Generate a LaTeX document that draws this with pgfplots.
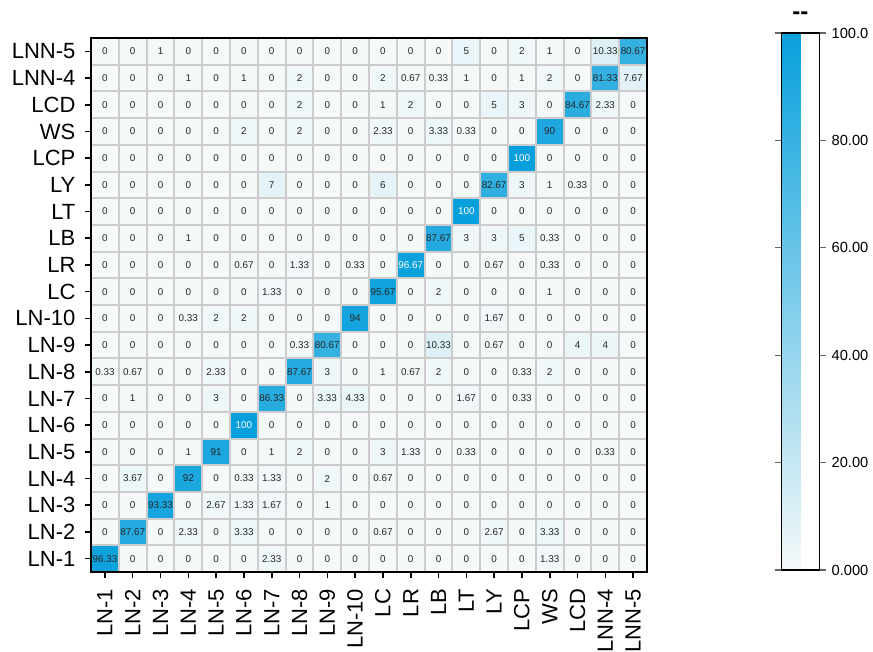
\documentclass[border=0pt]{standalone}
\usepackage{pgfplots}
\usepackage{pgfplotstable}
\pgfplotsset{compat=1.18}
\usepackage{fontspec}
\setmainfont{Liberation Sans}
\pgfplotstableread[row sep=\\]{
x y z\\
0 0 96.33\\ 1 0 0\\ 2 0 0\\ 3 0 0\\ 4 0 0\\ 5 0 0\\ 6 0 2.33\\ 7 0 0\\ 8 0 0\\ 9 0 0\\ 10 0 0\\ 11 0 0\\ 12 0 0\\ 13 0 0\\ 14 0 0\\ 15 0 0\\ 16 0 1.33\\ 17 0 0\\ 18 0 0\\ 19 0 0\\
0 1 0\\ 1 1 87.67\\ 2 1 0\\ 3 1 2.33\\ 4 1 0\\ 5 1 3.33\\ 6 1 0\\ 7 1 0\\ 8 1 0\\ 9 1 0\\ 10 1 0.67\\ 11 1 0\\ 12 1 0\\ 13 1 0\\ 14 1 2.67\\ 15 1 0\\ 16 1 3.33\\ 17 1 0\\ 18 1 0\\ 19 1 0\\
0 2 0\\ 1 2 0\\ 2 2 93.33\\ 3 2 0\\ 4 2 2.67\\ 5 2 1.33\\ 6 2 1.67\\ 7 2 0\\ 8 2 1\\ 9 2 0\\ 10 2 0\\ 11 2 0\\ 12 2 0\\ 13 2 0\\ 14 2 0\\ 15 2 0\\ 16 2 0\\ 17 2 0\\ 18 2 0\\ 19 2 0\\
0 3 0\\ 1 3 3.67\\ 2 3 0\\ 3 3 92\\ 4 3 0\\ 5 3 0.33\\ 6 3 1.33\\ 7 3 0\\ 8 3 2\\ 9 3 0\\ 10 3 0.67\\ 11 3 0\\ 12 3 0\\ 13 3 0\\ 14 3 0\\ 15 3 0\\ 16 3 0\\ 17 3 0\\ 18 3 0\\ 19 3 0\\
0 4 0\\ 1 4 0\\ 2 4 0\\ 3 4 1\\ 4 4 91\\ 5 4 0\\ 6 4 1\\ 7 4 2\\ 8 4 0\\ 9 4 0\\ 10 4 3\\ 11 4 1.33\\ 12 4 0\\ 13 4 0.33\\ 14 4 0\\ 15 4 0\\ 16 4 0\\ 17 4 0\\ 18 4 0.33\\ 19 4 0\\
0 5 0\\ 1 5 0\\ 2 5 0\\ 3 5 0\\ 4 5 0\\ 5 5 100\\ 6 5 0\\ 7 5 0\\ 8 5 0\\ 9 5 0\\ 10 5 0\\ 11 5 0\\ 12 5 0\\ 13 5 0\\ 14 5 0\\ 15 5 0\\ 16 5 0\\ 17 5 0\\ 18 5 0\\ 19 5 0\\
0 6 0\\ 1 6 1\\ 2 6 0\\ 3 6 0\\ 4 6 3\\ 5 6 0\\ 6 6 86.33\\ 7 6 0\\ 8 6 3.33\\ 9 6 4.33\\ 10 6 0\\ 11 6 0\\ 12 6 0\\ 13 6 1.67\\ 14 6 0\\ 15 6 0.33\\ 16 6 0\\ 17 6 0\\ 18 6 0\\ 19 6 0\\
0 7 0.33\\ 1 7 0.67\\ 2 7 0\\ 3 7 0\\ 4 7 2.33\\ 5 7 0\\ 6 7 0\\ 7 7 87.67\\ 8 7 3\\ 9 7 0\\ 10 7 1\\ 11 7 0.67\\ 12 7 2\\ 13 7 0\\ 14 7 0\\ 15 7 0.33\\ 16 7 2\\ 17 7 0\\ 18 7 0\\ 19 7 0\\
0 8 0\\ 1 8 0\\ 2 8 0\\ 3 8 0\\ 4 8 0\\ 5 8 0\\ 6 8 0\\ 7 8 0.33\\ 8 8 80.67\\ 9 8 0\\ 10 8 0\\ 11 8 0\\ 12 8 10.33\\ 13 8 0\\ 14 8 0.67\\ 15 8 0\\ 16 8 0\\ 17 8 4\\ 18 8 4\\ 19 8 0\\
0 9 0\\ 1 9 0\\ 2 9 0\\ 3 9 0.33\\ 4 9 2\\ 5 9 2\\ 6 9 0\\ 7 9 0\\ 8 9 0\\ 9 9 94\\ 10 9 0\\ 11 9 0\\ 12 9 0\\ 13 9 0\\ 14 9 1.67\\ 15 9 0\\ 16 9 0\\ 17 9 0\\ 18 9 0\\ 19 9 0\\
0 10 0\\ 1 10 0\\ 2 10 0\\ 3 10 0\\ 4 10 0\\ 5 10 0\\ 6 10 1.33\\ 7 10 0\\ 8 10 0\\ 9 10 0\\ 10 10 95.67\\ 11 10 0\\ 12 10 2\\ 13 10 0\\ 14 10 0\\ 15 10 0\\ 16 10 1\\ 17 10 0\\ 18 10 0\\ 19 10 0\\
0 11 0\\ 1 11 0\\ 2 11 0\\ 3 11 0\\ 4 11 0\\ 5 11 0.67\\ 6 11 0\\ 7 11 1.33\\ 8 11 0\\ 9 11 0.33\\ 10 11 0\\ 11 11 96.67\\ 12 11 0\\ 13 11 0\\ 14 11 0.67\\ 15 11 0\\ 16 11 0.33\\ 17 11 0\\ 18 11 0\\ 19 11 0\\
0 12 0\\ 1 12 0\\ 2 12 0\\ 3 12 1\\ 4 12 0\\ 5 12 0\\ 6 12 0\\ 7 12 0\\ 8 12 0\\ 9 12 0\\ 10 12 0\\ 11 12 0\\ 12 12 87.67\\ 13 12 3\\ 14 12 3\\ 15 12 5\\ 16 12 0.33\\ 17 12 0\\ 18 12 0\\ 19 12 0\\
0 13 0\\ 1 13 0\\ 2 13 0\\ 3 13 0\\ 4 13 0\\ 5 13 0\\ 6 13 0\\ 7 13 0\\ 8 13 0\\ 9 13 0\\ 10 13 0\\ 11 13 0\\ 12 13 0\\ 13 13 100\\ 14 13 0\\ 15 13 0\\ 16 13 0\\ 17 13 0\\ 18 13 0\\ 19 13 0\\
0 14 0\\ 1 14 0\\ 2 14 0\\ 3 14 0\\ 4 14 0\\ 5 14 0\\ 6 14 7\\ 7 14 0\\ 8 14 0\\ 9 14 0\\ 10 14 6\\ 11 14 0\\ 12 14 0\\ 13 14 0\\ 14 14 82.67\\ 15 14 3\\ 16 14 1\\ 17 14 0.33\\ 18 14 0\\ 19 14 0\\
0 15 0\\ 1 15 0\\ 2 15 0\\ 3 15 0\\ 4 15 0\\ 5 15 0\\ 6 15 0\\ 7 15 0\\ 8 15 0\\ 9 15 0\\ 10 15 0\\ 11 15 0\\ 12 15 0\\ 13 15 0\\ 14 15 0\\ 15 15 100\\ 16 15 0\\ 17 15 0\\ 18 15 0\\ 19 15 0\\
0 16 0\\ 1 16 0\\ 2 16 0\\ 3 16 0\\ 4 16 0\\ 5 16 2\\ 6 16 0\\ 7 16 2\\ 8 16 0\\ 9 16 0\\ 10 16 2.33\\ 11 16 0\\ 12 16 3.33\\ 13 16 0.33\\ 14 16 0\\ 15 16 0\\ 16 16 90\\ 17 16 0\\ 18 16 0\\ 19 16 0\\
0 17 0\\ 1 17 0\\ 2 17 0\\ 3 17 0\\ 4 17 0\\ 5 17 0\\ 6 17 0\\ 7 17 2\\ 8 17 0\\ 9 17 0\\ 10 17 1\\ 11 17 2\\ 12 17 0\\ 13 17 0\\ 14 17 5\\ 15 17 3\\ 16 17 0\\ 17 17 84.67\\ 18 17 2.33\\ 19 17 0\\
0 18 0\\ 1 18 0\\ 2 18 0\\ 3 18 1\\ 4 18 0\\ 5 18 1\\ 6 18 0\\ 7 18 2\\ 8 18 0\\ 9 18 0\\ 10 18 2\\ 11 18 0.67\\ 12 18 0.33\\ 13 18 1\\ 14 18 0\\ 15 18 1\\ 16 18 2\\ 17 18 0\\ 18 18 81.33\\ 19 18 7.67\\
0 19 0\\ 1 19 0\\ 2 19 1\\ 3 19 0\\ 4 19 0\\ 5 19 0\\ 6 19 0\\ 7 19 0\\ 8 19 0\\ 9 19 0\\ 10 19 0\\ 11 19 0\\ 12 19 0\\ 13 19 5\\ 14 19 0\\ 15 19 2\\ 16 19 1\\ 17 19 0\\ 18 19 10.33\\ 19 19 80.67\\
}\cm
\begin{document}
\begin{tikzpicture}
\begin{axis}[
  scale only axis,
  width=417pt, height=400.5pt,
  xmin=-0.5, xmax=19.5, ymin=-0.5, ymax=19.5,
  axis on top,
  colormap={cm}{rgb255=(245,249,249) rgb255=(8,160,220)},
  point meta min=0, point meta max=100,
  xtick={0,...,19}, ytick={0,...,19},
  xticklabels={LN-1,LN-2,LN-3,LN-4,LN-5,LN-6,LN-7,LN-8,LN-9,LN-10,LC,LR,LB,LT,LY,LCP,WS,LCD,LNN-4,LNN-5},
  yticklabels={LN-1,LN-2,LN-3,LN-4,LN-5,LN-6,LN-7,LN-8,LN-9,LN-10,LC,LR,LB,LT,LY,LCP,WS,LCD,LNN-4,LNN-5},
  minor xtick={-0.5,0.5,...,19.5}, minor ytick={-0.5,0.5,...,19.5},
  xminorgrids=true, yminorgrids=true,
  minor grid style={draw=black!20, line width=1.5pt},
  minor tick length=0pt,
  tick pos=left, tick align=outside,
  major tick length=4.5pt,
  major tick style={black, line width=1.2pt},
  axis line style={black, line width=1.5pt},
  ticklabel style={font=\fontsize{16.5}{16.5}\selectfont},
  xticklabel style={rotate=90, anchor=east, inner sep=0pt, xshift=-8pt},
  yticklabel style={inner sep=0pt, xshift=-7pt},
  /pgf/number format/assume math mode=true,
  colorbar,
  colorbar style={
    at={(parent axis.north east)}, anchor=north west,
    xshift=92.25pt, yshift=3.75pt,
    width=28.5pt, height=402.75pt,
    ytick={0,20,40,60,80,100},
    yticklabels={0.000,20.00,40.00,60.00,80.00,100.0},
    yticklabel style={font=\fontsize{11}{11}\selectfont, inner sep=1pt, xshift=3pt},
    major tick length=5pt,
    major tick style={black!60, line width=0.8pt},
    tick align=outside,
    axis line style={black, line width=1pt},
    title={\fontsize{18}{18}\selectfont\bfseries -{}-},
    title style={inner sep=0pt, yshift=4pt, text height=6pt, text depth=0pt},
  },
]
\addplot[matrix plot*, mesh/cols=20, point meta=explicit] table[x=x, y=y, meta=z] {\cm};
\addplot[only marks, mark=none, point meta=explicit,
  x filter/.expression={\thisrow{z}>96.5 ? nan : x},
  nodes near coords={\pgfmathprintnumber[fixed, precision=2]{\pgfplotspointmeta}},
  nodes near coords align={center},
  every node near coord/.append style={font=\fontsize{7.4}{7.4}\selectfont, text=black!85, anchor=center, inner sep=0pt},
] table[x=x, y=y, meta=z] {\cm};
\addplot[only marks, mark=none, point meta=explicit,
  x filter/.expression={\thisrow{z}>96.5 ? x : nan},
  nodes near coords={\pgfmathprintnumber[fixed, precision=2]{\pgfplotspointmeta}},
  nodes near coords align={center},
  every node near coord/.append style={font=\fontsize{7.4}{7.4}\selectfont, text=white, anchor=center, inner sep=0pt},
] table[x=x, y=y, meta=z] {\cm};
\end{axis}
\pgfresetboundingbox
\path[use as bounding box] (-68.25pt,-59.25pt) rectangle (586.5pt,429pt);
\end{tikzpicture}
\end{document}
